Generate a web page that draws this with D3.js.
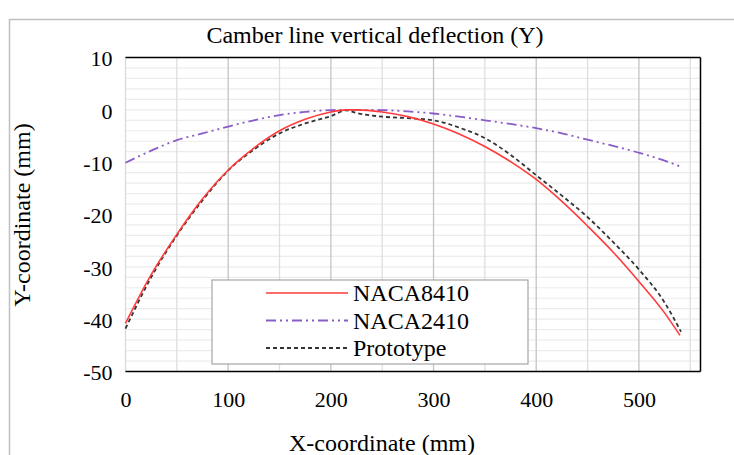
<!DOCTYPE html>
<html>
<head>
<meta charset="utf-8">
<script src="https://cdn.jsdelivr.net/npm/d3@7"></script>
<style>
  html, body { margin: 0; padding: 0; background: #fff; }
  svg { display: block; }
  svg text { font-family: "Liberation Serif", "Times New Roman", serif; fill: #000; }
</style>
</head>
<body>
<div id="chart"></div>
<script>
// ---- data ----
const naca8410X = [0, 25, 50, 75, 100, 125, 150, 175, 200, 215, 225, 250, 275, 300, 325, 350, 375, 400, 425, 450, 475, 500, 525, 540];
const naca8410Y = [-40.8, -31.5, -23.8, -17.0, -11.5, -7.3, -4.0, -1.8, -0.4, 0, 0, -0.4, -1.3, -2.7, -4.6, -7.0, -9.9, -13.3, -17.5, -22.2, -27.2, -32.8, -38.8, -43.1];

const naca2410X = [0, 25, 50, 75, 100, 125, 150, 175, 200, 225, 250, 275, 300, 325, 350, 375, 400, 425, 450, 475, 500, 525, 540];
const naca2410Y = [-10.1, -7.8, -5.8, -4.5, -3.2, -2.0, -1.0, -0.4, -0.05, 0, -0.05, -0.3, -0.7, -1.3, -2.0, -2.7, -3.5, -4.5, -5.7, -6.9, -8.2, -9.7, -10.8];

const protoX = [0, 25, 50, 75, 100, 125, 150, 175, 200, 215, 225, 250, 275, 300, 325, 350, 375, 400, 425, 450, 475, 500, 525, 541];
const protoY = [-41.8, -32.0, -24.0, -17.3, -11.6, -7.6, -4.5, -2.6, -1.2, -0.1, -0.6, -1.3, -1.6, -2.0, -3.4, -5.4, -8.6, -12.5, -16.4, -20.5, -25.3, -30.5, -36.8, -42.4];

const xTicks = [0, 100, 200, 300, 400, 500];
const yTicks = [10, 0, -10, -20, -30, -40, -50];
const seriesNames = ["NACA8410", "NACA2410", "Prototype"];

const titleText = "Camber line vertical deflection (Y)";
const xTitle = "X-coordinate (mm)";
const yTitle = "Y-coordinate (mm)";

// ---- layout ----
const W = 734, H = 455;
const plot = { left: 125.5, top: 57.5, right: 700.5, bottom: 371.5 };
const FONT = '"Liberation Serif", "Times New Roman", serif';

const svg = d3.select("#chart").append("svg").attr("width", W).attr("height", H);

// chart area border
svg.append("rect").attr("x", 9.5).attr("y", 19.5).attr("width", 760).attr("height", 500)
  .attr("fill", "#fff").attr("stroke", "#bfbfbf").attr("stroke-width", 1.5);

const x = d3.scaleLinear().domain([0, 560]).range([plot.left, plot.right]);
const y = d3.scaleLinear().domain([-50, 10]).range([plot.bottom, plot.top]);

// minor horizontal gridlines (every 2)
const yMinor = d3.range(-50, 10.001, 2);
svg.append("g").selectAll("line").data(yMinor).join("line")
  .attr("x1", plot.left).attr("x2", plot.right)
  .attr("y1", d => y(d)).attr("y2", d => y(d))
  .attr("stroke", "#ececec").attr("stroke-width", 1.2);

// vertical gridlines: minor at 50s, major at 100s
const xMinor = d3.range(50, 560, 100);
svg.append("g").selectAll("line").data(xMinor).join("line")
  .attr("x1", d => x(d)).attr("x2", d => x(d))
  .attr("y1", plot.top).attr("y2", plot.bottom)
  .attr("stroke", "#dedede").attr("stroke-width", 1.3);
const xMajor = d3.range(100, 560, 100);
svg.append("g").selectAll("line").data(xMajor).join("line")
  .attr("x1", d => x(d)).attr("x2", d => x(d))
  .attr("y1", plot.top).attr("y2", plot.bottom)
  .attr("stroke", "#c4c4c4").attr("stroke-width", 1.3);

// left axis line (light)
svg.append("line").attr("x1", plot.left).attr("x2", plot.left)
  .attr("y1", plot.top).attr("y2", plot.bottom).attr("stroke", "#d9d9d9").attr("stroke-width", 1.3);

// plot border: top, right, bottom dark
svg.append("line").attr("x1", plot.left).attr("x2", plot.right).attr("y1", plot.top).attr("y2", plot.top)
  .attr("stroke", "#000").attr("stroke-width", 1.5);
svg.append("line").attr("x1", plot.right).attr("x2", plot.right).attr("y1", plot.top).attr("y2", plot.bottom)
  .attr("stroke", "#000").attr("stroke-width", 1.5);
svg.append("line").attr("x1", plot.left).attr("x2", plot.right).attr("y1", plot.bottom).attr("y2", plot.bottom)
  .attr("stroke", "#000").attr("stroke-width", 1.5);

// axes via d3 (hyphen-minus labels as in the original)
const fmt = d => String(d);
const xAxis = d3.axisBottom(x).tickValues(xTicks).tickSize(0).tickPadding(20).tickFormat(fmt);
const gx = svg.append("g").attr("transform", `translate(0,${plot.bottom})`).call(xAxis);
gx.select(".domain").remove();
gx.attr("font-family", FONT);
gx.selectAll("text").attr("font-size", 22);

const yAxis = d3.axisLeft(y).tickValues(yTicks).tickSize(0).tickPadding(13).tickFormat(fmt);
const gy = svg.append("g").attr("transform", `translate(${plot.left},0)`).call(yAxis);
gy.select(".domain").remove();
gy.attr("font-family", FONT);
gy.selectAll("text").attr("font-size", 22).attr("dy", "0.38em");

// series
const line = d3.line().x(d => x(d[0])).y(d => y(d[1])).curve(d3.curveMonotoneX);
const series = [
  { name: seriesNames[0], xs: naca8410X, ys: naca8410Y, color: "#ff3b3b", dash: null, width: 1.6 },
  { name: seriesNames[1], xs: naca2410X, ys: naca2410Y, color: "#8a5cc8", dash: "10,4,2,4,2,4", width: 1.8 },
  { name: seriesNames[2], xs: protoX, ys: protoY, color: "#333333", dash: "4,3", width: 1.8 }
];
const drawOrder = [1, 2, 0];
drawOrder.forEach(i => {
  const s = series[i];
  svg.append("path")
    .datum(s.xs.map((v, k) => [v, s.ys[k]]))
    .attr("d", line)
    .attr("fill", "none")
    .attr("stroke", s.color)
    .attr("stroke-width", s.width)
    .attr("stroke-dasharray", s.dash);
});

// legend
const lg = svg.append("g");
lg.append("rect").attr("x", 212).attr("y", 280).attr("width", 316).attr("height", 84)
  .attr("fill", "#fff").attr("stroke", "#a6a6a6").attr("stroke-width", 1.2);
series.forEach((s, i) => {
  const ly = 293 + i * 27.5;
  lg.append("line").attr("x1", 266).attr("x2", 348).attr("y1", ly).attr("y2", ly)
    .attr("stroke", s.color).attr("stroke-width", s.width).attr("stroke-dasharray", s.dash);
  lg.append("text").attr("x", 353).attr("y", ly).attr("dy", "0.34em")
    .attr("font-size", 24).attr("font-family", FONT).text(s.name);
});

// titles
svg.append("text").attr("x", 375).attr("y", 43).attr("text-anchor", "middle")
  .attr("font-size", 24).attr("font-family", FONT).text(titleText);
svg.append("text").attr("x", 382).attr("y", 451).attr("text-anchor", "middle")
  .attr("font-size", 24).attr("font-family", FONT).text(xTitle);
svg.append("text").attr("transform", "translate(30,215) rotate(-90)").attr("text-anchor", "middle")
  .attr("font-size", 24).attr("font-family", FONT).text(yTitle);
</script>
</body>
</html>
